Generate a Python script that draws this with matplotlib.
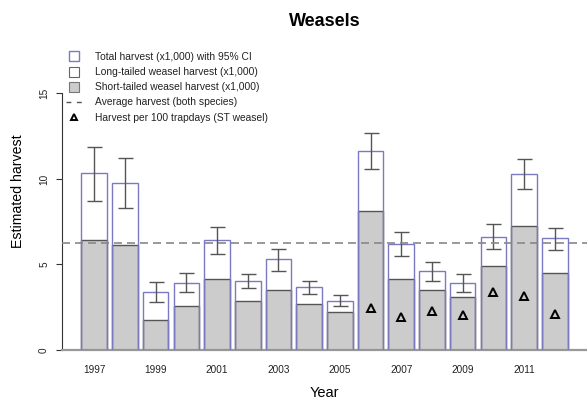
import numpy as np
import matplotlib
matplotlib.use("Agg")
import matplotlib.pyplot as plt
from matplotlib.lines import Line2D

plt.rcParams['font.family'] = ['Liberation Sans', 'DejaVu Sans']

# valores (x1000)
anos = [1997, 1998, 1999, 2000, 2001, 2002, 2003, 2004,
        2005, 2006, 2007, 2008, 2009, 2010, 2011, 2012]
total = [10.33, 9.79, 3.37, 3.94, 6.41, 4.05, 5.30, 3.68,
         2.88, 11.64, 6.22, 4.62, 3.94, 6.63, 10.31, 6.53]
short_tailed = [6.43, 6.12, 1.75, 2.57, 4.17, 2.88, 3.53, 2.67,
                2.20, 8.15, 4.15, 3.49, 3.12, 4.91, 7.27, 4.50]
ic_inf = [8.71, 8.32, 2.79, 3.37, 5.61, 3.60, 4.64, 3.29,
          2.55, 10.57, 5.50, 4.05, 3.39, 5.90, 9.40, 5.85]
ic_sup = [11.85, 11.23, 3.96, 4.48, 7.21, 4.44, 5.90, 4.05,
          3.23, 12.69, 6.88, 5.16, 4.46, 7.37, 11.19, 7.15]
anos_trap = [2006, 2007, 2008, 2009, 2010, 2011, 2012]
por_100_trapdays = [2.47, 1.93, 2.28, 2.03, 3.37, 3.14, 2.10]
media = 6.24

azul = '#7a7ac2'
cinza = '#cccccc'
escuro = '#555555'

fig = plt.figure(figsize=(5.87, 4.0), dpi=100)
ax = fig.add_axes([62 / 587, 50 / 400, 525 / 587, 282.2 / 400])

# posições estilo barplot do R (space = 0.2)
x = 0.7 + 1.2 * np.arange(len(anos))
pos = dict(zip(anos, x))

ax.bar(x, short_tailed, width=1.0, color=cinza, edgecolor=escuro, linewidth=1.0, zorder=2)
ax.bar(x, total, width=1.0, facecolor='none', edgecolor=azul, linewidth=1.0, zorder=3)

tot = np.array(total)
yerr = [tot - np.array(ic_inf), np.array(ic_sup) - tot]
ax.errorbar(x, total, yerr=yerr, fmt='none', ecolor=escuro, elinewidth=1.0,
            capsize=5.4, capthick=1.0, zorder=4)

linha = ax.axhline(media, color='#888888', linewidth=1.2, zorder=5)
linha.set_dashes([4.8, 3.0])

ax.plot([pos[a] for a in anos_trap], por_100_trapdays, linestyle='none', marker='^',
        markersize=5.3, markerfacecolor='none', markeredgecolor='black',
        markeredgewidth=1.4, zorder=6)

ax.set_xlim(-0.56, 19.96)
ax.set_ylim(0, 16.5)

for lado in ['top', 'right']:
    ax.spines[lado].set_visible(False)
ax.spines['left'].set_bounds(0, 15)
ax.spines['left'].set_color('#333333')
ax.spines['bottom'].set_color('#999999')
ax.spines['bottom'].set_linewidth(1.6)

ax.set_yticks([0, 5, 10, 15])
ax.set_yticklabels(['0', '5', '10', '15'], rotation=90, va='center')
ax.tick_params(axis='y', length=4.3, width=0.8, color='#333333', pad=5,
               labelsize=7.2, labelcolor='#222222')

impares = anos[::2]
ax.set_xticks([pos[a] for a in impares])
ax.set_xticklabels([str(a) for a in impares])
ax.tick_params(axis='x', length=0, pad=10.5, labelsize=7.2, labelcolor='#222222')

ax.set_xlabel('Year', fontsize=10.5, labelpad=8)
ax.set_ylabel('Estimated harvest', fontsize=10.2, va='center')
ax.yaxis.set_label_coords((18 - 62) / 525, (350 - 191) / 282.2)
ax.set_title('Weasels', fontsize=13, fontweight='bold', pad=30)

handles = [
    Line2D([], [], linestyle='none', marker='s', markersize=7.2,
           markerfacecolor='white', markeredgecolor=azul, markeredgewidth=1.0),
    Line2D([], [], linestyle='none', marker='s', markersize=7.2,
           markerfacecolor='white', markeredgecolor='#666666', markeredgewidth=0.8),
    Line2D([], [], linestyle='none', marker='s', markersize=7.2,
           markerfacecolor=cinza, markeredgecolor='#777777', markeredgewidth=0.8),
    Line2D([], [], color='#555555', linewidth=1.0, dashes=(3.5, 4)),
    Line2D([], [], linestyle='none', marker='^', markersize=5,
           markerfacecolor='none', markeredgecolor='black', markeredgewidth=1.4),
]
labels = [
    'Total harvest (x1,000) with 95% CI',
    'Long-tailed weasel harvest (x1,000)',
    'Short-tailed weasel harvest (x1,000)',
    'Average harvest (both species)',
    'Harvest per 100 trapdays (ST weasel)',
]
leg = fig.legend(handles, labels, loc='upper left', bbox_to_anchor=(66 / 587, 1 - 52 / 400),
                 frameon=False, fontsize=7.4, labelspacing=0.5, handlelength=1.6,
                 handletextpad=1.2, borderpad=0, borderaxespad=0, numpoints=1)
for t in leg.get_texts():
    t.set_color('#222222')

fig.savefig('out.png', dpi=100)
